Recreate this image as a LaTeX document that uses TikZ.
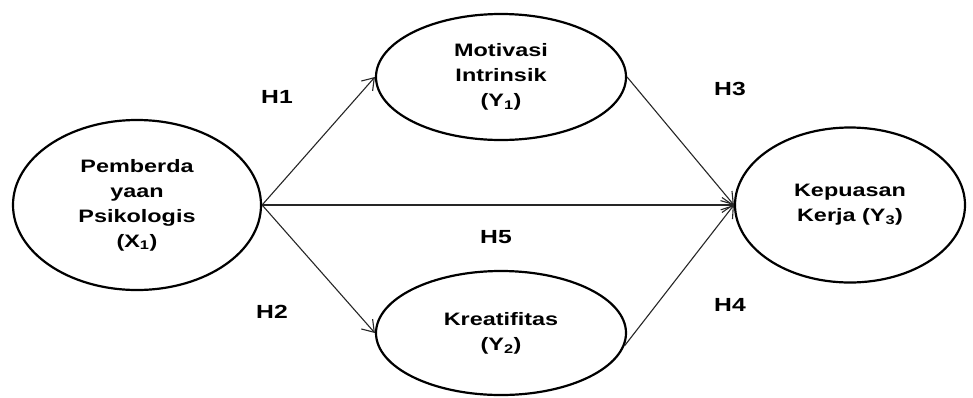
\documentclass[tikz,border=0pt]{standalone}
\usepackage{fontspec}
\setmainfont{Liberation Sans}
\newfontfamily\widesans[FakeStretch=1.3]{Liberation Sans}
\usetikzlibrary{arrows.meta, shapes.geometric}

\tikzset{
  latent/.style={ellipse, draw, line width=2.2pt, align=center,
    font=\widesans\fontsize{18}{25}\selectfont\bfseries},
  path/.style={line width=1.1pt, draw=black!85,
    arrows={-Straight Barb[length=11pt, width=15pt, line width=1.1pt]}},
  hyp/.style={font=\widesans\fontsize{19}{22}\selectfont\bfseries}
}

\begin{document}
\begin{tikzpicture}[x=1pt, y=-1pt]
  % fix the page to the size of the picture
  \useasboundingbox (0, 0) rectangle (973, 397);
  % Draw latent variables
  \node [latent, minimum width=248pt, minimum height=170pt] (x1) at (137, 205)
    {Pemberda\\yaan\\Psikologis\\(X\textsubscript{1})};
  \node [latent, minimum width=250pt, minimum height=126pt] (y1) at (501, 77)
    {Motivasi\\Intrinsik\\(Y\textsubscript{1})};
  \node [latent, minimum width=250pt, minimum height=124pt] (y2) at (501, 333)
    {Kreatifitas\\(Y\textsubscript{2})};
  \node [latent, minimum width=230pt, minimum height=155pt] (y3) at (850, 205)
    {Kepuasan\\Kerja (Y\textsubscript{3})};
  % Draw paths
  \draw [path] (x1.east) -- (y1.west);
  \draw [path] (x1.east) -- (y2.west);
  \draw [path] (x1.east) -- (y3.west);
  \draw [path] (y1.east) -- (y3.west);
  \draw [path] (y2.-6) -- (y3.west);
  % Add hypothesis labels
  \node [hyp] (h1) at (277, 97) {H1};
  \node [hyp] (h2) at (272, 312) {H2};
  \node [hyp] (h3) at (730, 89) {H3};
  \node [hyp] (h4) at (730, 305) {H4};
  \node [hyp] (h5) at (496, 237) {H5};
\end{tikzpicture}
\end{document}
